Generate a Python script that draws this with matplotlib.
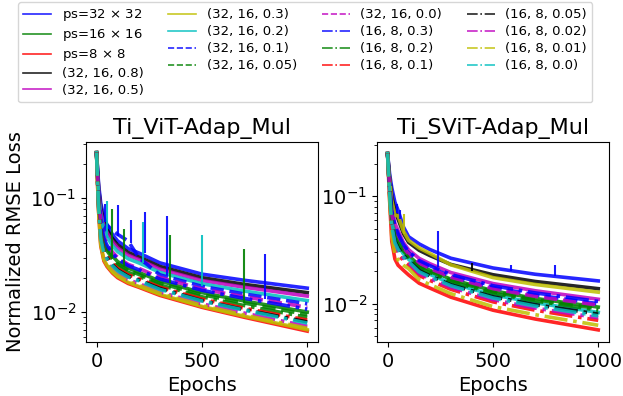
import matplotlib
matplotlib.use("Agg")
import matplotlib.pyplot as plt

# ---------------- data ----------------
epochs = [0, 5, 10, 20, 35, 50, 75, 100, 150, 200, 300, 500, 700, 999]

labels = ["ps=32 $\\times$ 32", "ps=16 $\\times$ 16", "ps=8 $\\times$ 8",
          "(32, 16, 0.8)", "(32, 16, 0.5)", "(32, 16, 0.3)", "(32, 16, 0.2)",
          "(32, 16, 0.1)", "(32, 16, 0.05)", "(32, 16, 0.0)",
          "(16, 8, 0.3)", "(16, 8, 0.2)", "(16, 8, 0.1)", "(16, 8, 0.05)",
          "(16, 8, 0.02)", "(16, 8, 0.01)", "(16, 8, 0.0)"]

colors = ["b", "g", "r", "k", "m", "y", "c", "b", "g", "m",
          "b", "g", "r", "k", "m", "y", "c"]
styles = ["-", "-", "-", "-", "-", "-", "-", "--", "--", "--",
          "-.", "-.", "-.", "-.", "-.", "-.", "-."]

# Ti_ViT-Adap_Mul
vit_ps32 = [0.25, 0.18, 0.13, 0.090, 0.068, 0.058, 0.048, 0.042, 0.036, 0.033, 0.027, 0.0215, 0.019, 0.0162]
vit_ps16 = [0.25, 0.150, 0.0955, 0.0556, 0.0414, 0.0362, 0.0310, 0.0277, 0.0243, 0.0223, 0.0187, 0.0148, 0.0125, 0.0100]
vit_ps8 = [0.25, 0.13, 0.075, 0.038, 0.028, 0.025, 0.022, 0.020, 0.0178, 0.0165, 0.014, 0.011, 0.009, 0.0068]
vit_32_16_08 = [0.25, 0.173, 0.122, 0.0818, 0.0618, 0.0528, 0.0441, 0.0387, 0.0333, 0.0305, 0.0251, 0.0200, 0.0175, 0.0148]
vit_32_16_05 = [0.25, 0.169, 0.117, 0.0764, 0.0575, 0.0494, 0.0414, 0.0365, 0.0315, 0.0289, 0.0238, 0.0189, 0.0165, 0.0138]
vit_32_16_03 = [0.25, 0.131, 0.0762, 0.0390, 0.0288, 0.0256, 0.0225, 0.0205, 0.0182, 0.0168, 0.0143, 0.0112, 0.0092, 0.0070]
vit_32_16_02 = [0.25, 0.164, 0.111, 0.0702, 0.0526, 0.0454, 0.0383, 0.0339, 0.0293, 0.0270, 0.0223, 0.0177, 0.0153, 0.0126]
vit_32_16_01 = [0.25, 0.160, 0.106, 0.0655, 0.0520, 0.0580, 0.0520, 0.0480, 0.0420, 0.0300, 0.0212, 0.0168, 0.0144, 0.0118]
vit_32_16_005 = [0.25, 0.147, 0.0925, 0.0527, 0.0393, 0.0344, 0.0296, 0.0265, 0.0232, 0.0214, 0.0179, 0.0142, 0.0120, 0.0095]
vit_32_16_00 = [0.25, 0.156, 0.101, 0.0611, 0.0456, 0.0397, 0.0337, 0.0301, 0.0262, 0.0242, 0.0201, 0.0159, 0.0136, 0.0110]
vit_16_8_03 = [0.25, 0.153, 0.0993, 0.0590, 0.0441, 0.0384, 0.0327, 0.0292, 0.0255, 0.0235, 0.0195, 0.0155, 0.0132, 0.0106]
vit_16_8_02 = [0.25, 0.144, 0.0893, 0.0501, 0.0372, 0.0327, 0.0282, 0.0254, 0.0223, 0.0206, 0.0173, 0.0136, 0.0114, 0.0090]
vit_16_8_01 = [0.25, 0.141, 0.0861, 0.0472, 0.0350, 0.0308, 0.0267, 0.0241, 0.0212, 0.0196, 0.0165, 0.0130, 0.0108, 0.0085]
vit_16_8_005 = [0.25, 0.139, 0.0841, 0.0456, 0.0337, 0.0299, 0.0259, 0.0234, 0.0206, 0.0191, 0.0161, 0.0126, 0.0105, 0.0082]
vit_16_8_002 = [0.25, 0.135, 0.0796, 0.0418, 0.0308, 0.0274, 0.0239, 0.0217, 0.0192, 0.0178, 0.0150, 0.0118, 0.0098, 0.0075]
vit_16_8_001 = [0.25, 0.132, 0.0774, 0.0400, 0.0295, 0.0263, 0.0230, 0.0209, 0.0185, 0.0172, 0.0146, 0.0114, 0.0094, 0.0072]
vit_16_8_00 = [0.25, 0.138, 0.0832, 0.0448, 0.0331, 0.0293, 0.0255, 0.0230, 0.0203, 0.0188, 0.0158, 0.0125, 0.0104, 0.0080]

# Ti_SViT-Adap_Mul
svit_ps32 = [0.25, 0.20, 0.16, 0.12, 0.088, 0.074, 0.052, 0.042, 0.036, 0.032, 0.0265, 0.0215, 0.0188, 0.0163]
svit_ps16 = [0.25, 0.171, 0.117, 0.0646, 0.0455, 0.0392, 0.0318, 0.0280, 0.0228, 0.0205, 0.0169, 0.0132, 0.0112, 0.0093]
svit_ps8 = [0.25, 0.15, 0.09, 0.038, 0.026, 0.0228, 0.0205, 0.0185, 0.0155, 0.0140, 0.0115, 0.0087, 0.0072, 0.0057]
svit_32_16_08 = [0.25, 0.191, 0.146, 0.0998, 0.0723, 0.0612, 0.0450, 0.0372, 0.0314, 0.0281, 0.0232, 0.0186, 0.0161, 0.0138]
svit_32_16_05 = [0.25, 0.180, 0.129, 0.0783, 0.0560, 0.0479, 0.0372, 0.0318, 0.0264, 0.0236, 0.0195, 0.0154, 0.0132, 0.0110]
svit_32_16_03 = [0.25, 0.187, 0.140, 0.0920, 0.0664, 0.0658, 0.0475, 0.0389, 0.0330, 0.0294, 0.0230, 0.0175, 0.0151, 0.0128]
svit_32_16_02 = [0.25, 0.166, 0.111, 0.0575, 0.0403, 0.0348, 0.0291, 0.0259, 0.0210, 0.0188, 0.0155, 0.0121, 0.0102, 0.0083]
svit_32_16_01 = [0.25, 0.175, 0.123, 0.0706, 0.0502, 0.0431, 0.0343, 0.0297, 0.0244, 0.0219, 0.0180, 0.0142, 0.0121, 0.0100]
svit_32_16_005 = [0.25, 0.170, 0.115, 0.0624, 0.0439, 0.0378, 0.0310, 0.0274, 0.0222, 0.0200, 0.0165, 0.0129, 0.0109, 0.0090]
svit_32_16_00 = [0.25, 0.174, 0.121, 0.0682, 0.0484, 0.0416, 0.0333, 0.0290, 0.0238, 0.0213, 0.0176, 0.0138, 0.0117, 0.0097]
svit_16_8_03 = [0.25, 0.177, 0.126, 0.0740, 0.0527, 0.0451, 0.0356, 0.0306, 0.0252, 0.0226, 0.0187, 0.0147, 0.0126, 0.0105]
svit_16_8_02 = [0.25, 0.168, 0.113, 0.0603, 0.0424, 0.0365, 0.0302, 0.0267, 0.0217, 0.0195, 0.0161, 0.0125, 0.0106, 0.0087]
svit_16_8_01 = [0.25, 0.159, 0.101, 0.0479, 0.0332, 0.0288, 0.0252, 0.0230, 0.0183, 0.0165, 0.0136, 0.0104, 0.0087, 0.0070]
svit_16_8_005 = [0.25, 0.164, 0.108, 0.0550, 0.0384, 0.0333, 0.0281, 0.0252, 0.0203, 0.0182, 0.0150, 0.0116, 0.0098, 0.0080]
svit_16_8_002 = [0.25, 0.161, 0.104, 0.0507, 0.0352, 0.0306, 0.0264, 0.0239, 0.0191, 0.0172, 0.0142, 0.0109, 0.0091, 0.0074]
svit_16_8_001 = [0.25, 0.154, 0.0948, 0.0422, 0.0290, 0.0254, 0.0228, 0.0212, 0.0167, 0.0151, 0.0124, 0.0094, 0.0079, 0.0063]
svit_16_8_00 = [0.25, 0.163, 0.106, 0.0531, 0.0370, 0.0321, 0.0273, 0.0247, 0.0198, 0.0178, 0.0147, 0.0113, 0.0095, 0.0077]

vit_series = [vit_ps32, vit_ps16, vit_ps8, vit_32_16_08, vit_32_16_05, vit_32_16_03,
              vit_32_16_02, vit_32_16_01, vit_32_16_005, vit_32_16_00,
              vit_16_8_03, vit_16_8_02, vit_16_8_01, vit_16_8_005,
              vit_16_8_002, vit_16_8_001, vit_16_8_00]
svit_series = [svit_ps32, svit_ps16, svit_ps8, svit_32_16_08, svit_32_16_05, svit_32_16_03,
               svit_32_16_02, svit_32_16_01, svit_32_16_005, svit_32_16_00,
               svit_16_8_03, svit_16_8_02, svit_16_8_01, svit_16_8_005,
               svit_16_8_002, svit_16_8_001, svit_16_8_00]

# spikes: (series index, epoch, low, high)
vit_spikes = [(6, 49, 0.045, 0.095), (6, 218, 0.027, 0.062), (6, 500, 0.017, 0.047),
              (8, 73, 0.030, 0.080), (8, 350, 0.018, 0.047),
              (7, 104, 0.046, 0.087), (7, 163, 0.040, 0.064), (7, 334, 0.021, 0.070),
              (7, 797, 0.013, 0.032),
              (1, 131, 0.025, 0.054), (1, 701, 0.012, 0.036),
              (0, 231, 0.033, 0.075), (0, 40, 0.062, 0.088)]
svit_spikes = [(5, 79, 0.045, 0.068), (7, 241, 0.022, 0.048),
               (0, 46, 0.070, 0.085), (0, 58, 0.062, 0.075),
               (0, 585, 0.020, 0.023), (0, 795, 0.018, 0.023),
               (3, 400, 0.020, 0.024)]

titles = ["Ti_ViT-Adap_Mul", "Ti_SViT-Adap_Mul"]

# ---------------- plot ----------------
fig = plt.figure(figsize=(6.23, 3.96), dpi=100)
ax1 = fig.add_axes([86 / 623, 54 / 396, 232 / 623, 200 / 396])
ax2 = fig.add_axes([377 / 623, 54 / 396, 232 / 623, 200 / 396])

for ax, series, spikes, title in [(ax1, vit_series, vit_spikes, titles[0]),
                                  (ax2, svit_series, svit_spikes, titles[1])]:
    for vals, c, ls, lab in zip(series, colors, styles, labels):
        ax.plot(epochs, vals, color=c, linestyle=ls, lw=2.6, alpha=0.85, label=lab)
    for idx, e, lo, hi in spikes:
        ax.vlines(e, lo, hi, color=colors[idx], lw=1.5, alpha=0.9)
    ax.set_yscale("log")
    ax.set_title(title, fontsize=16)
    ax.set_xlabel("Epochs", fontsize=14)
    ax.set_xticks([0, 500, 1000])
    ax.tick_params(axis="both", which="major", labelsize=14)
    ax.set_xlim(-50, 1050)

ax1.set_ylim(0.00546, 0.31)
ax2.set_ylim(0.0044, 0.32)
ax1.set_ylabel("Normalized RMSE Loss", fontsize=14)

handles, labs = ax1.get_legend_handles_labels()
leg = fig.legend(handles, labs, loc="upper left", bbox_to_anchor=(18 / 623, 1 - 2 / 396),
                 borderaxespad=0, ncol=4, fontsize=9.5, frameon=True, labelspacing=0.3,
                 handlelength=2.1, columnspacing=1.9)
for ln in leg.get_lines():
    ln.set_linewidth(1.2)

fig.savefig("out.png", dpi=100)
